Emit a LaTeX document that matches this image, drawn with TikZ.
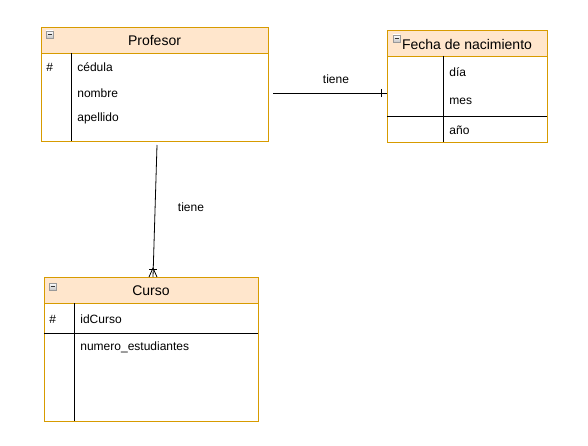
\documentclass[tikz,border=0pt]{standalone}
\usepackage{fontspec}
\setmainfont{Liberation Sans}
\definecolor{tableborder}{HTML}{D79B00}
\definecolor{tablehead}{HTML}{FFE6CC}
\newcommand\colorTableBorder{tableborder}
\newcommand\colorTableHead{tablehead}

\tikzset{
	tablebox/.style={draw=\colorTableBorder, fill=white, inner sep=0pt, anchor=north west},
	headbox/.style={draw=\colorTableBorder, fill=\colorTableHead, inner sep=0pt, anchor=north west},
	title/.style={font=\fontsize{14}{16}\selectfont, inner sep=0pt},
	field/.style={font=\fontsize{12}{14}\selectfont, inner sep=0pt, anchor=west},
	rel/.style={font=\fontsize{12}{14}\selectfont, inner sep=0pt},
}

% minimize icon in the header of a table
\newcommand\minbox[2]{
	\draw[gray!80, top color=white, bottom color=gray!45] (#1,#2) rectangle ++(7,7);
	\draw[black!80] (#1+1.5,#2+3.5) -- ++(4,0);
}

\begin{document}
\begin{tikzpicture}[x=1pt,y=-1pt,line width=0.8pt]
	\useasboundingbox (0,0) rectangle (588,446);

	% Profesor
	\node[tablebox, minimum width=227pt, minimum height=114pt] (profesor) at (41,27) {};
	\node[headbox, minimum width=227pt, minimum height=26pt] (profesorHead) at (41,27) {};
	\node[title] (profesorTitle) at (154.5,40.5) {Profesor};
	\minbox{46}{31}
	\draw (71,53) -- (71,141);
	\node[field] (profesorKey) at (46,67) {\#};
	\node[field] (cedula) at (77,67) {cédula};
	\node[field] (nombre) at (77,93) {nombre};
	\node[field] (apellido) at (77,118) {apellido};

	% Fecha de nacimiento
	\node[tablebox, minimum width=160pt, minimum height=112pt] (fecha) at (387,30) {};
	\node[headbox, minimum width=160pt, minimum height=26pt] (fechaHead) at (387,30) {};
	\node[title] (fechaTitle) at (467,44) {Fecha de nacimiento};
	\minbox{393}{35}
	\draw (443,56) -- (443,142);
	\draw (387,116) -- (547,116);
	\node[field] (dia) at (449,72) {día};
	\node[field] (mes) at (449,101) {mes};
	\node[field] (anio) at (449,130) {año};

	% Curso
	\node[tablebox, minimum width=214pt, minimum height=144pt] (curso) at (44,277) {};
	\node[headbox, minimum width=214pt, minimum height=26pt] (cursoHead) at (44,277) {};
	\node[title] (cursoTitle) at (151,291) {Curso};
	\minbox{49}{283}
	\draw (74,303) -- (74,421);
	\draw (44,333) -- (258,333);
	\node[field] (cursoKey) at (49,319) {\#};
	\node[field] (idCurso) at (80,319) {idCurso};
	\node[field] (numero) at (80,347) {numero\_estudiantes};

	% relaciones
	\coordinate (r1a) at (273,93);
	\coordinate (r1b) at (fecha.west |- r1a);
	\draw (r1a) -- (r1b);
	\draw ([xshift=-6pt]r1b) ++(0,-4) -- ++(0,8);
	\node[rel] (tiene1) at (336,79) {tiene};

	\coordinate (r2a) at (157,145);
	\coordinate (r2b) at (153,277);
	\draw (r2a) -- (r2b);
	\draw (149,269) -- (157,269);
	\draw (149,277) -- (153,268) -- (157,277);
	\node[rel] (tiene2) at (191,207) {tiene};
\end{tikzpicture}
\end{document}
